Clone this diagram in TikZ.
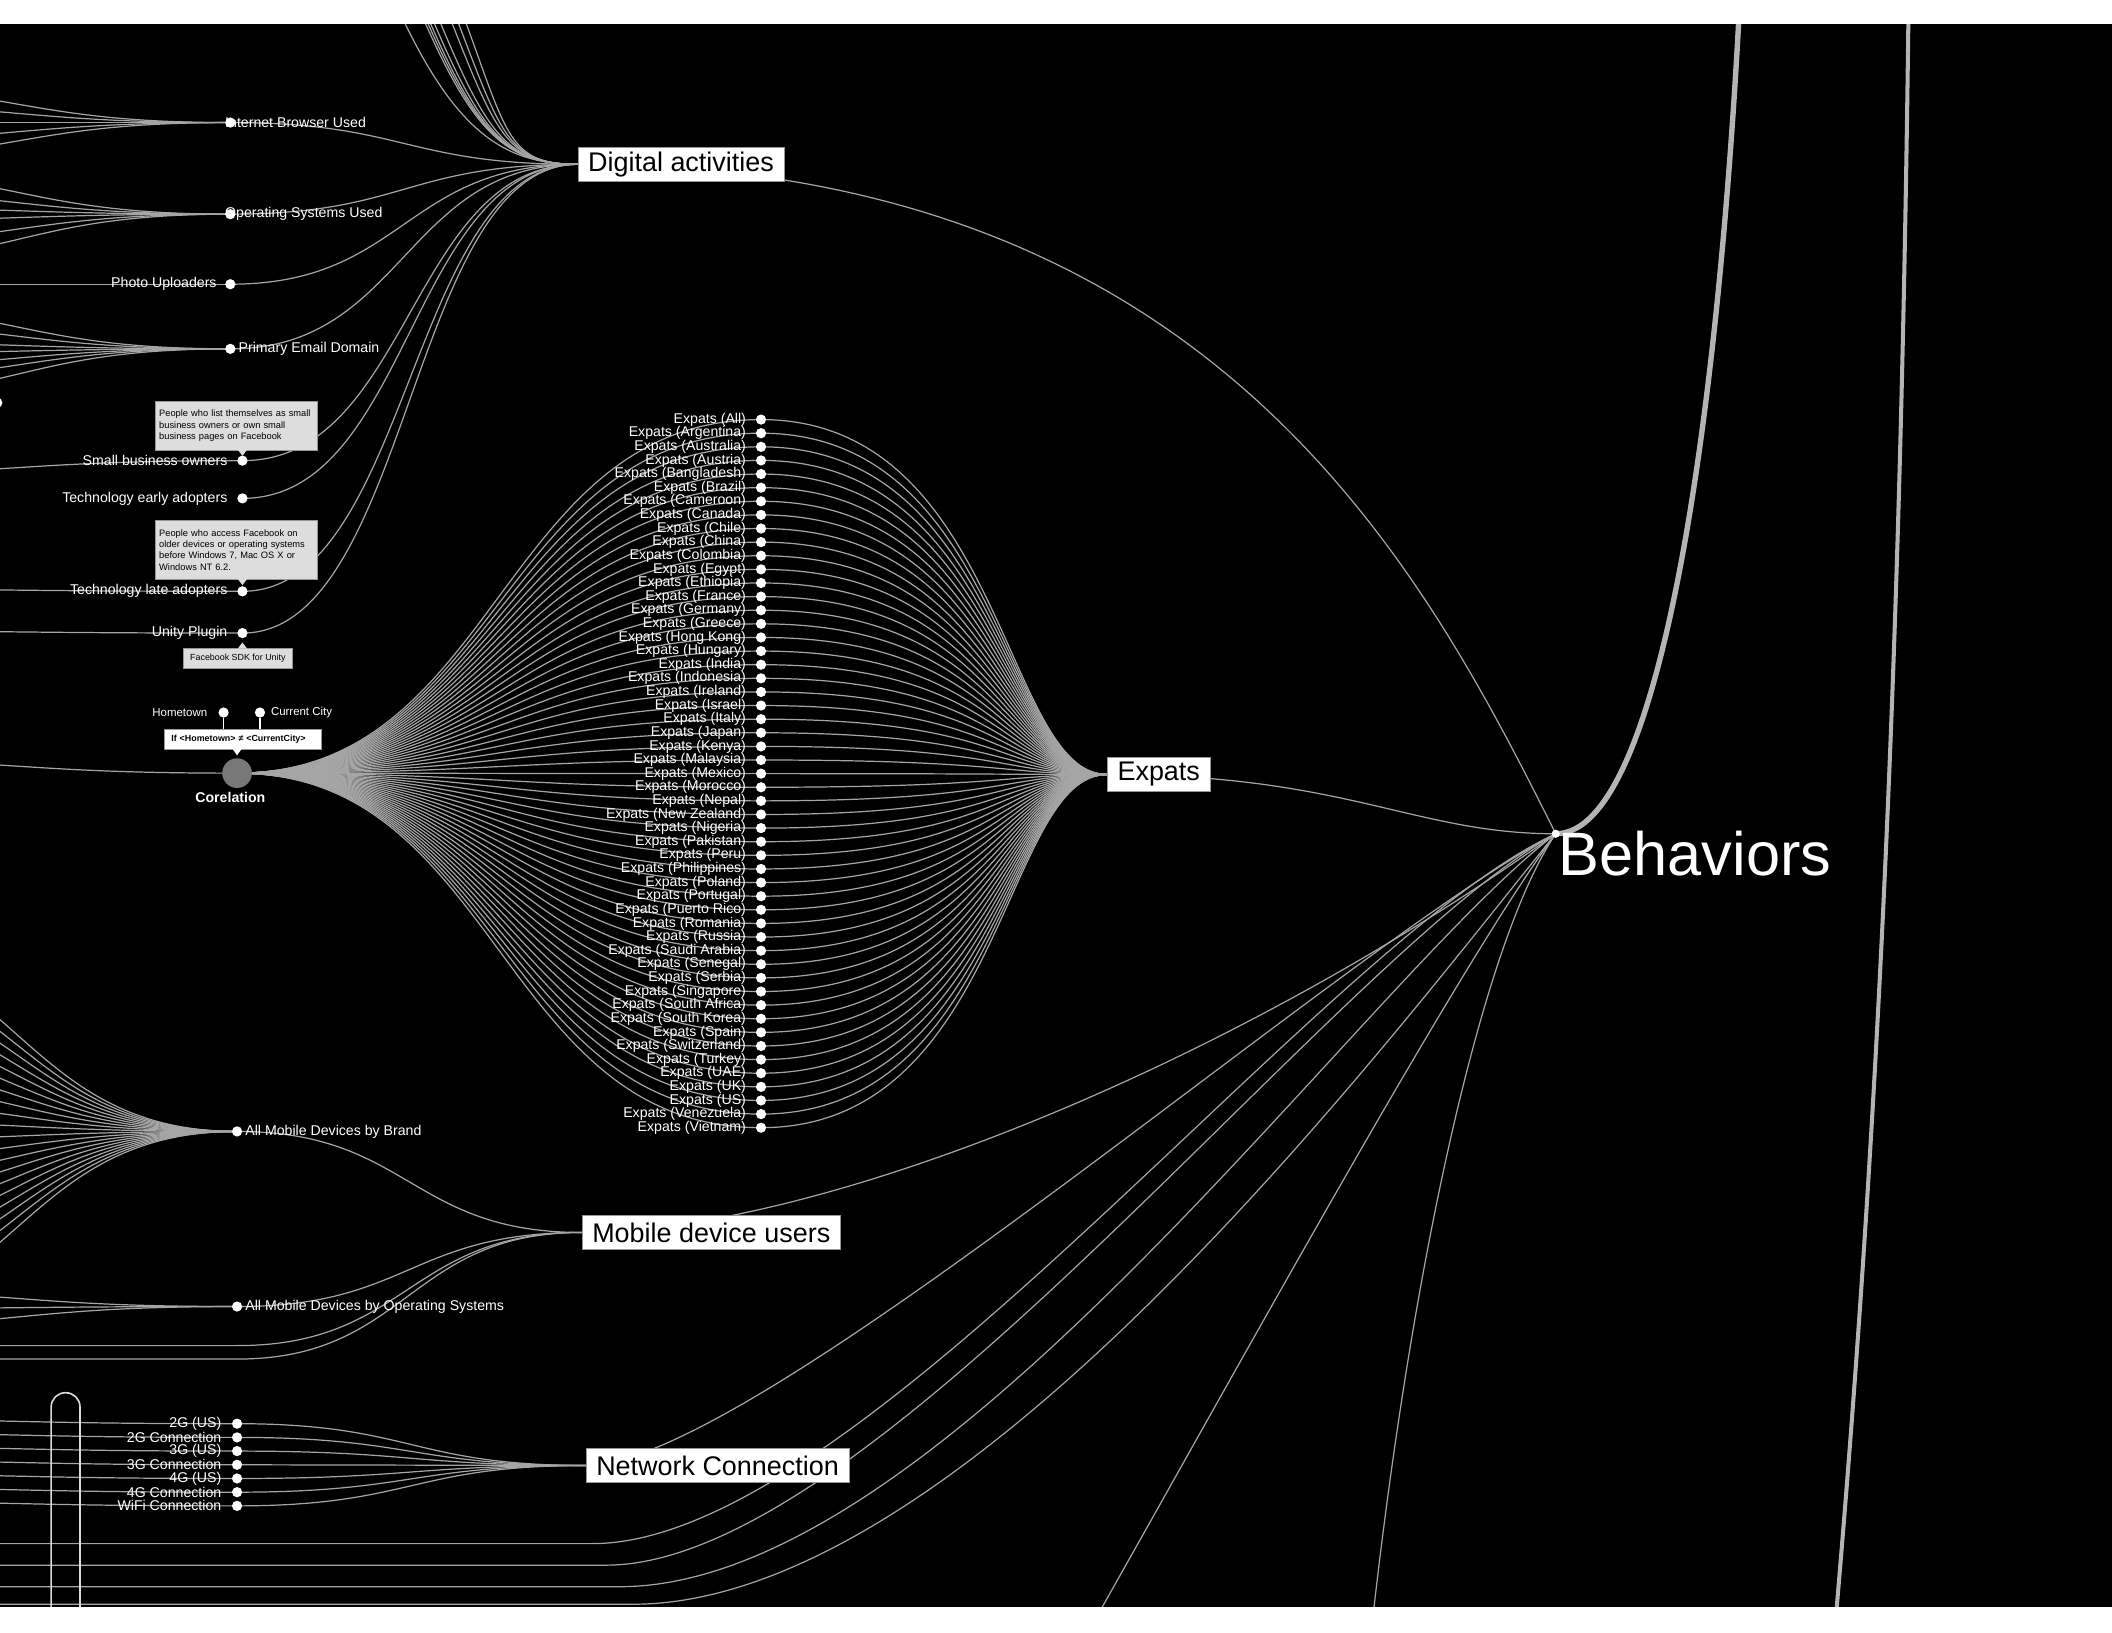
\documentclass[tikz,border=0pt]{standalone}
\usepackage{fontspec}
\setmainfont{Liberation Sans}
\usetikzlibrary{calc,positioning}
\definecolor{linkgray}{RGB}{165,165,165}
\definecolor{heavygray}{RGB}{180,180,180}
\definecolor{tipfill}{RGB}{221,221,221}
\definecolor{boxline}{RGB}{150,150,150}
\definecolor{corgray}{RGB}{120,120,120}

% tree link, horizontal at both ends, bending at fraction #1
\newcommand{\dlink}[3][.5]{%
  \draw[lnk] let \p1=(#2), \p2=(#3) in
    (\p1) .. controls ({\x1+#1*(\x2-\x1)},\y1) and ({\x1+#1*(\x2-\x1)},\y2) .. (\p2);}
% links coming in from beyond the left edge
\newcommand{\edgefan}[3]{%
  \foreach \yy in {#3}{%
    \pgfmathsetmacro\ys{#2+(\yy-#2)/0.575}%
    \draw[lnk] (-150,\ys) .. controls (12,\ys) and (12,#2) .. (#1);}}

\begin{document}
\begin{tikzpicture}[x=1pt, y=-1pt,
  lnk/.style={draw=linkgray, line width=0.9pt},
  heavy/.style={draw=heavygray, line width=#1},
  dot/.style={circle, fill=white, inner sep=0pt, minimum size=7.6pt},
  lab/.style={text=white, inner sep=0pt, font=\fontsize{10.5}{12}\selectfont},
  cat/.style={draw=boxline, fill=white, text=black, anchor=west,
    inner xsep=7.5pt, inner ysep=0pt, minimum height=25pt,
    font=\fontsize{20}{22}\selectfont},
  tip/.style={draw=boxline, fill=tipfill, text=black, align=left,
    inner xsep=3pt, inner ysep=2pt, font=\fontsize{6.9}{8.4}\selectfont},
]
\useasboundingbox (0,0) rectangle (1568,1212);
\fill[white] (0,0) rectangle (1568,1212);
\fill[black] (0,18) rectangle (1568,1193);

\begin{scope}
\clip (0,18) rectangle (1568,1193);

% tree points
\coordinate (daP) at (429,122);
\coordinate (ibuP) at (171,91);
\coordinate (osuP) at (171,159);
\coordinate (photoP) at (171,211);
\coordinate (pedP) at (171,259);
\coordinate (sboP) at (180,342);
\coordinate (teaP) at (180,370);
\coordinate (tlaP) at (180,439);
\coordinate (unityP) at (180,470);
\coordinate (corP) at (176,574);
\coordinate (exP) at (822,575);
\coordinate (amdbP) at (176,840);
\coordinate (amdosP) at (176,970);
\coordinate (mduP) at (432,915);
\coordinate (ncP) at (435,1088);
\coordinate (behP) at (1155,619);
\coordinate (behUp) at (1296,-100);
\foreach \i in {0,...,52} \coordinate (ex\i) at (565,{311.5+\i*10.11});
\foreach \i in {1,...,7} \coordinate (net\i) at (176,{1046.8+\i*10.17});

% links from off the picture
\foreach \t in {296,312,314,316,319,324,333,338,344}
  \draw[lnk] (\t-16,-30) .. controls (\t+34,95) and (370,122) .. (daP);
\edgefan{ibuP}{91}{75,83,91,99,107}
\edgefan{osuP}{159}{140,149,156,162,172,181}
\edgefan{photoP}{211}{211}
\edgefan{pedP}{259}{240,248,256,261,267,273,281}
\edgefan{sboP}{342}{348}
\edgefan{tlaP}{439}{438}
\edgefan{unityP}{470}{469}
\edgefan{corP}{574}{568}
\edgefan{amdbP}{840}{757,765.7,...,923}
\edgefan{amdosP}{970}{963,971,979}
\foreach \i in {1,...,7}{%
  \pgfmathsetmacro\ny{1046.8+\i*10.17}\pgfmathsetmacro\ey{\ny-2}%
  \edgefan{net\i}{\ny}{\ey}}

% Digital activities
\foreach \leaf in {ibuP,osuP,photoP,pedP,sboP,teaP,tlaP,unityP}
  \dlink{\leaf}{daP};

% Expats
\foreach \i in {0,...,52} \dlink{corP}{ex\i};
\foreach \i in {0,...,52} \dlink[.7]{ex\i}{exP};

% Mobile device users
\dlink{amdbP}{mduP}
\dlink{amdosP}{mduP}
\foreach \yy in {999,1009}
  \draw[lnk] (-10,\yy) -- (176,\yy) .. controls (303,\yy) and (303,915) .. (mduP);

% Network Connection
\foreach \i in {1,...,7} \dlink{net\i}{ncP};

% into Behaviors
\draw[lnk] (daP) .. controls (900,122) and (1055,419) .. (behP);
\draw[lnk] (exP) .. controls (1000,575) and (1050,619) .. (behP);
\draw[lnk] (mduP) .. controls (600,915) and (900,800) .. (behP);
\draw[lnk] (ncP) .. controls (560,1088) and (1000,700) .. (behP);
\draw[lnk] (-10,1146) -- (440,1146) .. controls (640,1146) and (980,700) .. (behP);
\draw[lnk] (-10,1162) -- (450,1162) .. controls (650,1162) and (990,710) .. (behP);
\draw[lnk] (-10,1178) -- (460,1178) .. controls (700,1178) and (1010,730) .. (behP);
\draw[lnk] (-10,1191) -- (470,1191) .. controls (720,1191) and (1040,760) .. (behP);
\draw[lnk] (790,1243) .. controls (900,1050) and (1080,720) .. (behP);
\draw[lnk] (1015,1240) .. controls (1045,950) and (1100,700) .. (behP);
\draw[heavy=4pt] (behP) .. controls (1240,619) and (1284,250) .. (behUp);
\draw[heavy=3pt] (1417,0) .. controls (1412,420) and (1398,800) .. (1362,1212);

% pill at the bottom left
\draw[draw=white!85!black, line width=1.2pt, rounded corners=10.5pt]
  (38,1200) -- (38,1034) -- (59.4,1034) -- (59.4,1200);

% category boxes
\node[cat] (da) at (daP) {Digital activities};
\node[cat] (expats) at (exP) {Expats};
\node[cat] (mdu) at (mduP) {Mobile device users};
\node[cat] (nc) at (ncP) {Network Connection};

% leaf labels
\node[lab, right=-4pt of ibuP] {Internet Browser Used};
\node[lab, right=-4pt of osuP] {Operating Systems Used};
\node[lab, left=10pt of photoP] {Photo Uploaders};
\node[lab, right=6pt of pedP] {Primary Email Domain};
\node[lab, left=11pt of sboP] {Small business owners};
\node[lab, left=11pt of teaP] {Technology early adopters};
\node[lab, left=11pt of tlaP] {Technology late adopters};
\node[lab, left=11pt of unityP] {Unity Plugin};
\node[lab, right=6pt of amdbP] {All Mobile Devices by Brand};
\node[lab, right=6pt of amdosP] {All Mobile Devices by Operating Systems};
\foreach \c [count=\i from 0] in {All,Argentina,Australia,Austria,Bangladesh,
    Brazil,Cameroon,Canada,Chile,China,Colombia,Egypt,Ethiopia,France,Germany,
    Greece,Hong Kong,Hungary,India,Indonesia,Ireland,Israel,Italy,Japan,Kenya,
    Malaysia,Mexico,Morocco,Nepal,New Zealand,Nigeria,Pakistan,Peru,Philippines,
    Poland,Portugal,Puerto Rico,Romania,Russia,Saudi Arabia,Senegal,Serbia,
    Singapore,South Africa,South Korea,Spain,Switzerland,Turkey,UAE,UK,US,
    Venezuela,Vietnam}
  \node[lab, left=11pt of ex\i] {Expats (\c)};
\foreach \c [count=\i] in {2G (US),2G Connection,3G (US),3G Connection,
    4G (US),4G Connection,WiFi Connection}
  \node[lab, left=11.5pt of net\i] {\c};

% dots
\foreach \leaf in {ibuP,osuP,photoP,pedP,sboP,teaP,tlaP,unityP,amdbP,amdosP}
  \node[dot] at (\leaf) {};
\foreach \i in {0,...,52} \node[dot] at (ex\i) {};
\foreach \i in {1,...,7} \node[dot] at (net\i) {};
\node[dot] (edgedot) at (-2,299) {};

% tooltips
\node[tip, anchor=north west, text width=114pt, minimum height=36pt] (tipsbo) at (115,298)
  {People who list themselves as small\\business owners or own small\\business pages on Facebook};
\fill[tipfill] (tipsbo.south -| sboP) ++(-3.5,-0.6) -- ++(3.5,4.6) -- ++(3.5,-4.6) -- cycle;
\node[tip, anchor=north west, text width=114pt, minimum height=44pt] (tiptla) at (115,386)
  {People who access Facebook on\\older devices or operating systems\\before Windows 7, Mac OS X or\\Windows NT 6.2.};
\fill[tipfill] (tiptla.south -| tlaP) ++(-3.5,-0.6) -- ++(3.5,4.6) -- ++(3.5,-4.6) -- cycle;
\node[tip, anchor=north west, inner xsep=5pt, minimum height=15pt,
  font=\fontsize{6.6}{8}\selectfont] (tipunity) at (136,481) {Facebook SDK for Unity};
\fill[tipfill] (tipunity.north -| unityP) ++(-3.5,0.6) -- ++(3.5,-4.6) -- ++(3.5,4.6) -- cycle;

% correlation of hometown and current city
\node[draw=boxline, fill=white, text=black, anchor=north west, text width=106pt,
  align=left, inner xsep=5pt, inner ysep=0pt, minimum height=15pt,
  font=\bfseries\fontsize{6.6}{8}\selectfont] (corrbox) at (122,541)
  {If <Hometown> ≠ <CurrentCity>};
\fill[white] (corrbox.south -| corP) ++(-3.5,-0.6) -- ++(3.5,5) -- ++(3.5,-5) -- cycle;
\node[dot] (home) at (166,529) {};
\node[dot] (curcity) at (193,529) {};
\draw[white, line width=0.8pt] (home) -- (home |- corrbox.north);
\draw[white, line width=0.8pt] (curcity) -- (curcity |- corrbox.north);
\node[lab, left=8pt of home, font=\fontsize{8.5}{10}\selectfont] {Hometown};
\node[lab, right=4pt of curcity, font=\fontsize{8.5}{10}\selectfont] {Current City};
\node[circle, fill=corgray, minimum size=22pt, inner sep=0pt] (cor) at (corP) {};
\node[below=3pt of cor, xshift=-5pt, text=white, inner sep=0pt,
  font=\bfseries\fontsize{10.5}{12}\selectfont] {Corelation};

% Behaviors
\node[circle, fill=white, inner sep=0pt, minimum size=6pt] (beh) at (behP) {};
\node[text=white, anchor=west, inner sep=0pt, font=\fontsize{45.5}{50}\selectfont]
  (behlab) at (1157,634) {Behaviors};
\end{scope}
\end{tikzpicture}
\end{document}
